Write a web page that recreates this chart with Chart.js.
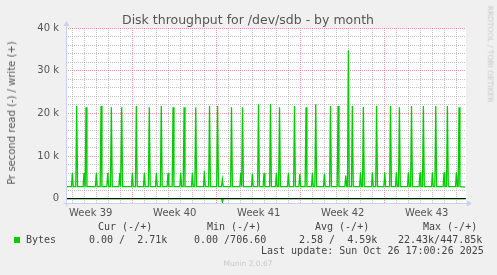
<!DOCTYPE html>
<html>
<head>
<meta charset="utf-8">
<script src="https://cdn.jsdelivr.net/npm/chart.js@4.4.0/dist/chart.umd.min.js"></script>
<style>
  html, body { margin: 0; padding: 0; background: #f0f0f0; }
  #wrap { position: relative; width: 497px; height: 275px; overflow: hidden; font-family: "DejaVu Sans", sans-serif; color: #555; }
  canvas { position: absolute; left: 0; top: 0; }
  .t { position: absolute; white-space: pre; line-height: 1; }
  .c { transform: translate(-50%, -50%); }
  .mono { font-family: "DejaVu Sans Mono", monospace; font-size: 10px; color: #444; }
</style>
</head>
<body>
<div id="wrap">
  <canvas id="chart" width="497" height="275"></canvas>
  <div class="t c" style="left:248px; top:20px; font-size:12.5px;">Disk throughput for /dev/sdb - by month</div>
  <div class="t" style="left:12px; top:113px; font-size:10px; transform: translate(-50%, -50%) rotate(-90deg);">Pr second read (-) / write (+)</div>
  <div class="t" style="left:490px; top:54px; font-size:7.5px; color:#c8c8c8; transform: translate(-50%, -50%) rotate(90deg);">RRDTOOL / TOBI OETIKER</div>

  <div class="t mono" style="left:98px; top:222px;">Cur (-/+)</div>
  <div class="t mono" style="left:207px; top:222px;">Min (-/+)</div>
  <div class="t mono" style="left:315px; top:222px;">Avg (-/+)</div>
  <div class="t mono" style="left:423px; top:222px;">Max (-/+)</div>

  <div style="position:absolute; left:14px; top:237px; width:6px; height:6px; background:#00cc00;"></div>
  <div class="t mono" style="left:26px; top:235px;">Bytes</div>
  <div class="t mono" style="left:89px; top:235px;">0.00 /  2.71k</div>
  <div class="t mono" style="left:194px; top:235px;">0.00 /706.60</div>
  <div class="t mono" style="left:299px; top:235px;">2.58 /  4.59k</div>
  <div class="t mono" style="left:398px; top:235px;">22.43k/447.85k</div>

  <div class="t mono" style="left:261px; top:246px;">Last update: Sun Oct 26 17:00:26 2025</div>
  <div class="t c" style="left:248px; top:264px; font-size:7.5px; color:#c8c8c8;">Munin 2.0.67</div>
</div>

<script>
// time axis in days since Mon 22 Sep 2025 00:00 (start of week 39)
const startDay = 1.44;
const endDay = 34.77;
const nowDay = 34.71;

const weekLabels = ['Week 39', 'Week 40', 'Week 41', 'Week 42', 'Week 43'];
const weekCenters = [3.5, 10.5, 17.5, 24.5, 31.5];

const yTickValues = [0, 10000, 20000, 30000, 40000];
const yTickLabels = ['0', '10 k', '20 k', '30 k', '40 k'];

// write (+) bytes/s: quiet level and the peaks
const writeBase = 2800;
const writeLast = 2710;
const peakDays = [
  1.97, 2.33, 2.94, 3.11, 3.97, 4.36, 4.92, 5.22, 5.92, 6.08,
  6.97, 7.30, 7.97, 8.38, 8.97, 9.38, 9.94, 10.36, 11.00, 11.28,
  11.97, 12.25, 12.97, 13.40, 14.07, 14.47, 15.23, 16.00, 16.15, 16.97,
  17.48, 17.94, 18.48, 18.97, 19.23, 19.97, 20.48, 20.92, 21.44, 21.97,
  22.25, 22.97, 23.48, 24.11, 24.75, 24.97, 25.30, 25.98, 26.22, 26.97,
  27.32, 28.00, 28.48, 28.97, 29.22, 29.97, 30.23, 30.94, 31.22, 31.97,
  32.25, 32.94, 33.22, 33.97, 34.19
];
const peakBytes = [
  6000, 21700, 6000, 21400, 6000, 21700, 6000, 21400, 6000, 21400,
  6000, 21700, 6000, 21400, 6000, 21700, 6000, 21400, 6000, 21400,
  6000, 21400, 6400, 21700, 21700, 4500, 21400, 6000, 21400, 5800,
  22100, 6000, 22100, 6000, 21400, 6000, 21700, 5800, 21400, 6000,
  22100, 5800, 21700, 21700, 5400, 34800, 21700, 6200, 21500, 6200,
  21700, 6200, 21700, 6200, 21400, 6200, 21700, 6200, 21700, 6200,
  21700, 6200, 21700, 6200, 21400
];

// read (-) bytes/s, drawn negative
const readDays = [14.47];
const readBytes = [-800];

const halfWidth = 0.075;

const writePoints = [{x: startDay, y: writeBase}];
peakDays.forEach((d, i) => {
  writePoints.push({x: d - halfWidth, y: writeBase});
  writePoints.push({x: d, y: peakBytes[i]});
  writePoints.push({x: d + halfWidth, y: writeBase});
});
writePoints.push({x: nowDay, y: writeLast});

const readPoints = [{x: startDay, y: 0}];
readDays.forEach((d, i) => {
  readPoints.push({x: d - halfWidth, y: 0});
  readPoints.push({x: d, y: readBytes[i]});
  readPoints.push({x: d + halfWidth, y: 0});
});
readPoints.push({x: nowDay, y: 0});

const AXIS = '#c9d0f4';
const MAJOR = 'rgba(240, 110, 110, 0.7)';
const MINOR = 'rgba(170, 170, 170, 0.7)';

const canvasBack = {
  id: 'canvasBack',
  beforeDraw(chart) {
    const {ctx, chartArea: a} = chart;
    ctx.save();
    ctx.fillStyle = '#ffffff';
    ctx.fillRect(a.left, a.top, a.right - a.left, a.bottom - a.top);
    ctx.restore();
  },
  afterDraw(chart) {
    const {ctx, chartArea: a} = chart;
    const x0 = Math.round(a.left) + 0.5;
    const y0 = Math.round(a.bottom) - 0.5;
    ctx.save();
    ctx.strokeStyle = AXIS;
    ctx.fillStyle = AXIS;
    ctx.lineWidth = 1;
    ctx.beginPath();
    ctx.moveTo(x0, y0 + 3);
    ctx.lineTo(x0, a.top - 3);
    ctx.moveTo(x0 - 3, y0);
    ctx.lineTo(a.right + 2, y0);
    ctx.stroke();
    ctx.beginPath();
    ctx.moveTo(x0 - 3, a.top - 2);
    ctx.lineTo(x0 + 3, a.top - 2);
    ctx.lineTo(x0, a.top - 7);
    ctx.closePath();
    ctx.fill();
    ctx.beginPath();
    ctx.moveTo(a.right + 1, y0 - 3);
    ctx.lineTo(a.right + 1, y0 + 3);
    ctx.lineTo(a.right + 6, y0);
    ctx.closePath();
    ctx.fill();
    ctx.restore();
  }
};

new Chart(document.getElementById('chart').getContext('2d'), {
  type: 'line',
  data: {
    datasets: [{
      data: writePoints,
      borderColor: '#00cc00',
      borderWidth: 1.3,
      pointRadius: 0,
      tension: 0,
      fill: false,
    }, {
      data: [{x: startDay, y: 0}, {x: endDay, y: 0}],
      borderColor: '#000000',
      borderWidth: 1,
      pointRadius: 0,
      fill: false,
    }, {
      data: readPoints,
      borderColor: '#00cc00',
      borderWidth: 1.3,
      pointRadius: 0,
      tension: 0,
      fill: false,
    }],
  },
  options: {
    responsive: false,
    animation: false,
    events: [],
    layout: {padding: {left: 0, right: 31, top: 28, bottom: 51}},
    plugins: {legend: {display: false}, tooltip: {enabled: false}, title: {display: false}},
    scales: {
      x: {
        type: 'linear',
        min: startDay,
        max: endDay,
        afterFit: (s) => { s.height = 20; },
        afterBuildTicks: (s) => {
          const ticks = [];
          for (let d = Math.ceil(startDay); d <= endDay; d++) ticks.push({value: d});
          weekCenters.forEach(v => ticks.push({value: v}));
          ticks.sort((a, b) => a.value - b.value);
          s.ticks = ticks;
        },
        ticks: {
          autoSkip: false,
          maxRotation: 0,
          padding: 3,
          color: '#555',
          font: {family: 'DejaVu Sans', size: 10},
          callback: (v) => {
            const i = weekCenters.indexOf(v);
            return i >= 0 ? weekLabels[i] : '';
          },
        },
        grid: {
          drawTicks: false,
          lineWidth: 1,
          color: (c) => {
            const v = c.tick.value;
            if (v % 1 !== 0) return 'rgba(0,0,0,0)';
            return v % 7 === 0 ? MAJOR : MINOR;
          },
        },
        border: {display: false, dash: [1, 1]},
      },
      y: {
        min: -1250,
        max: 40000,
        afterFit: (s) => { s.width = 66; },
        afterBuildTicks: (s) => {
          const ticks = [];
          for (let v = 0; v <= 40000; v += 2000) ticks.push({value: v});
          s.ticks = ticks;
        },
        ticks: {
          autoSkip: false,
          padding: 7,
          color: '#555',
          font: {family: 'DejaVu Sans', size: 10},
          callback: (v) => {
            const i = yTickValues.indexOf(v);
            return i >= 0 ? yTickLabels[i] : '';
          },
        },
        grid: {
          drawTicks: false,
          lineWidth: 1,
          color: (c) => (c.tick.value % 10000 === 0 ? MAJOR : MINOR),
        },
        border: {display: false, dash: [1, 1]},
      },
    },
  },
  plugins: [canvasBack],
});
</script>
</body>
</html>
